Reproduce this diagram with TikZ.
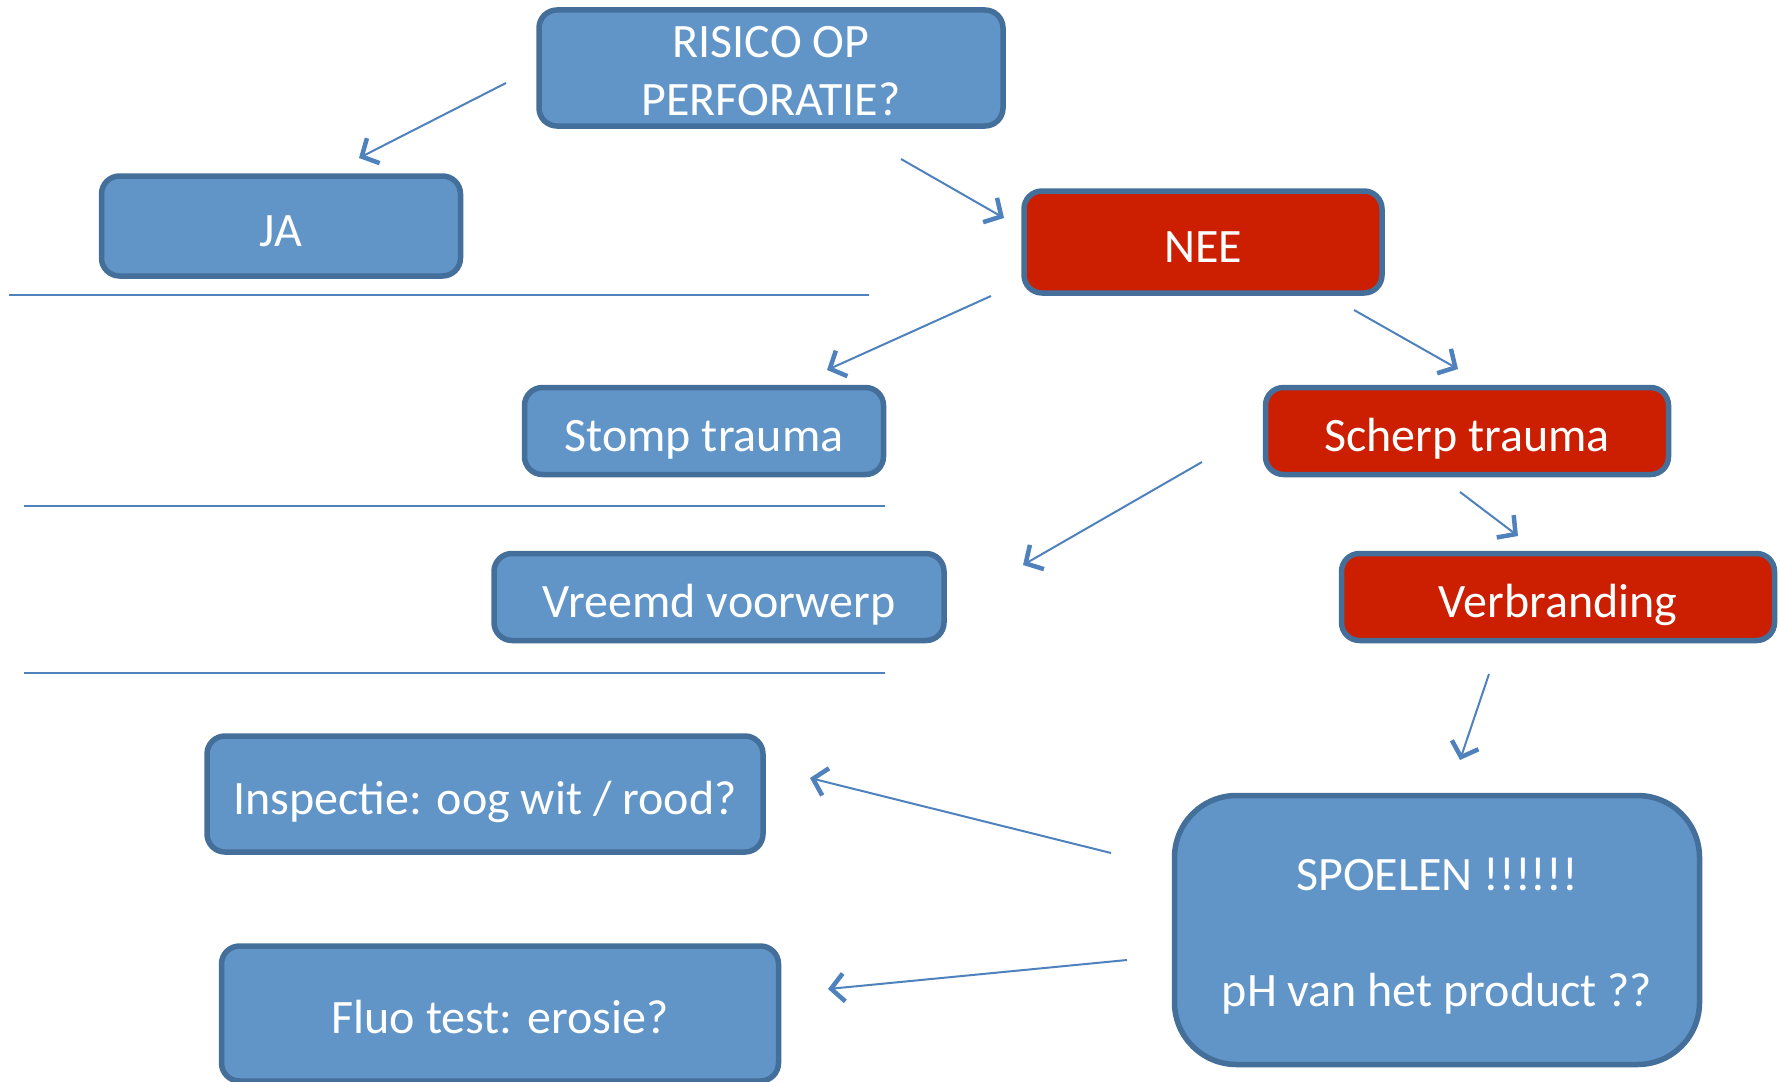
\documentclass[tikz,border=0pt]{standalone}
\usepackage{fontspec}
\setmainfont{Carlito}
\usetikzlibrary{arrows.meta}
\definecolor{boxblue}{RGB}{97,149,200}
\definecolor{boxedge}{RGB}{68,111,154}
\definecolor{boxred}{RGB}{204,30,0}
\definecolor{linkblue}{RGB}{79,129,189}
\begin{document}
\begin{tikzpicture}[x=1pt,y=-1pt,
  boxbase/.style={draw=boxedge, line width=5.5pt, rounded corners=18pt, fill=boxblue,
    text=white, font=\fontsize{48}{58}\selectfont, inner sep=0pt, align=center},
  box/.style={boxbase, text height=40pt, text depth=0pt},
  redbox/.style={box, fill=boxred},
  link/.style={draw=linkblue, line width=2pt,
    -{Straight Barb[length=13pt,width=28pt,line width=4.5pt]}},
  rule/.style={draw=linkblue, line width=2.5pt}]
\useasboundingbox (0,0) rectangle (1779,1081);

% decision boxes
\node[boxbase, text height=95pt, text depth=0pt, minimum width=464pt, minimum height=116pt] (risk) at (771,68) {RISICO OP\\PERFORATIE?};
\node[box, minimum width=359pt, minimum height=100pt] (ja) at (281,226) {JA};
\node[redbox, minimum width=358pt, minimum height=102pt] (nee) at (1203,242) {NEE};
\node[box, minimum width=359pt, minimum height=87pt] (stomp) at (704,431) {Stomp trauma};
\node[redbox, minimum width=403pt, minimum height=87pt] (scherp) at (1467,431) {Scherp trauma};
\node[box, minimum width=450pt, minimum height=87pt] (vreemd) at (719,597) {Vreemd voorwerp};
\node[redbox, minimum width=433pt, minimum height=87pt] (verbr) at (1558,597) {Verbranding};
\node[box, minimum width=556pt, minimum height=116pt] (insp) at (485,794) {Inspectie: oog wit / rood?};
\node[box, minimum width=557pt, minimum height=135pt] (fluo) at (500,1013.5) {Fluo test: erosie?};
\node[boxbase, text height=152pt, text depth=0pt, rounded corners=62pt, minimum width=525pt, minimum height=269pt] (spoel) at (1437,930)
  {SPOELEN !!!!!!\\[58pt]pH van het product ??};

% separator rules
\draw[rule] (9,295) -- (869,295);
\draw[rule] (24,506) -- (885,506);
\draw[rule] (24,673) -- (885,673);

% arrow end points
\coordinate (riskL) at (506,83);   \coordinate (jaT) at (359,158);
\coordinate (riskR) at (901,159);  \coordinate (neeL) at (1004,218);
\coordinate (neeL2) at (991,296);  \coordinate (stompT) at (827,370);
\coordinate (neeR) at (1354,310);  \coordinate (scherpT) at (1458,369);
\coordinate (scherpL) at (1202,462); \coordinate (vreemdR) at (1023,565);
\coordinate (scherpB) at (1460,492); \coordinate (verbrT) at (1518,536);
\coordinate (verbrB) at (1489,674);  \coordinate (spoelT) at (1460,760);
\coordinate (spoelL) at (1111,853);  \coordinate (inspR) at (810,778);
\coordinate (spoelL2) at (1127,960); \coordinate (fluoR) at (828,989);

% connectors
\draw[link] (riskL) -- (jaT);
\draw[link] (riskR) -- (neeL);
\draw[link] (neeL2) -- (stompT);
\draw[link] (neeR) -- (scherpT);
\draw[link] (scherpL) -- (vreemdR);
\draw[link] (scherpB) -- (verbrT);
\draw[link] (verbrB) -- (spoelT);
\draw[link] (spoelL) -- (inspR);
\draw[link] (spoelL2) -- (fluoR);
\end{tikzpicture}
\end{document}
